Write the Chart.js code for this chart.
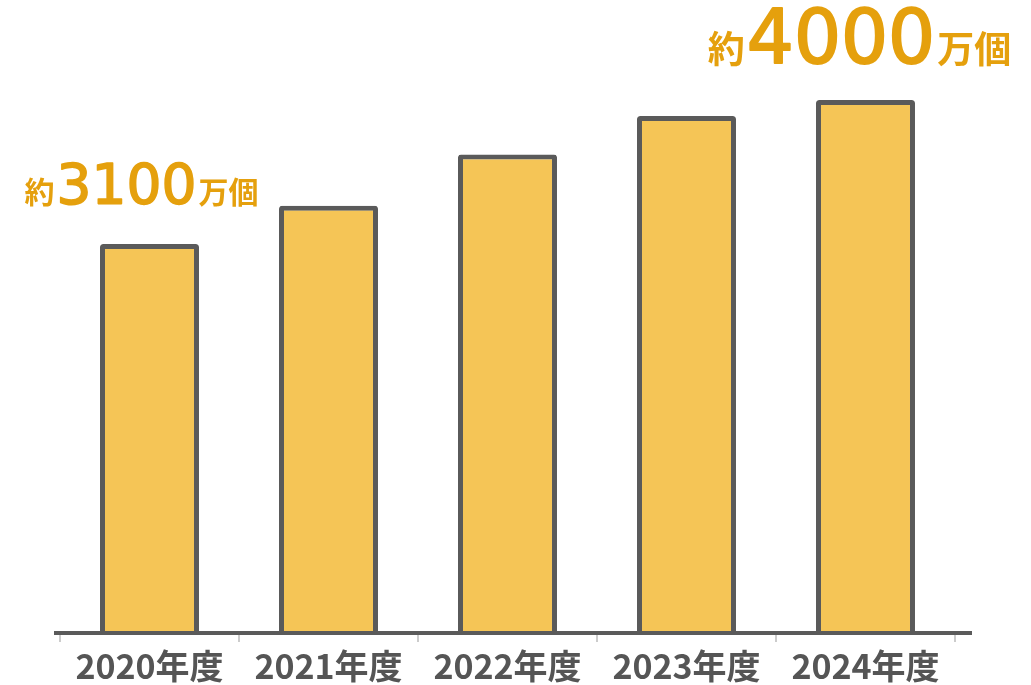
<!DOCTYPE html>
<html lang="ja">
<head>
<meta charset="UTF-8">
<title>年度別の推移</title>
<script src="https://cdn.jsdelivr.net/npm/chart.js@4/dist/chart.umd.min.js"></script>
<style>
    html, body { margin: 0; padding: 0; background: #fff; }
    .chart-box { width: 1031px; height: 685px; position: relative; }
</style>
</head>
<body>
<div class="chart-box">
    <canvas id="countChart"></canvas>
</div>
<script>
    // 年度ごとの個数（万個）
    const years = ['2020年度', '2021年度', '2022年度', '2023年度', '2024年度'];
    const counts = [3100, 3340, 3660, 3900, 4000];
    // 吹き出しを付ける年度
    const calloutIndexes = [0, 4];

    const FONT = '"Noto Sans CJK JP", "Noto Sans", sans-serif';
    const DIGIT_FONT = '"DejaVu Sans", sans-serif';
    const ORANGE = '#E5A00D';

    // 下の軸線（プロット領域より少し長く引く）
    const axisLine = {
        id: 'axisLine',
        afterDatasetsDraw(chart) {
            const { ctx, chartArea } = chart;
            ctx.save();
            ctx.strokeStyle = '#5a5a5a';
            ctx.lineWidth = 4;
            ctx.beginPath();
            ctx.moveTo(chartArea.left - 6, chartArea.bottom);
            ctx.lineTo(chartArea.right + 17, chartArea.bottom);
            ctx.stroke();
            ctx.restore();
        }
    };

    // 「約○○万個」の表示
    const callouts = {
        id: 'callouts',
        afterDatasetsDraw(chart) {
            const { ctx } = chart;
            const bars = chart.getDatasetMeta(0).data;
            calloutIndexes.forEach((i, n) => {
                const big = n === calloutIndexes.length - 1;
                const numSize = big ? 74 : 55;
                const kanjiSize = big ? 37 : 30;
                const parts = [
                    { text: '約', font: `bold ${kanjiSize}px ${FONT}`, stroke: 0 },
                    { text: String(counts[i]), font: `${numSize}px ${DIGIT_FONT}`, stroke: big ? 2 : 1.6 },
                    { text: '万個', font: `bold ${kanjiSize}px ${FONT}`, stroke: 0 }
                ];
                ctx.save();
                ctx.fillStyle = ORANGE;
                ctx.strokeStyle = ORANGE;
                ctx.lineJoin = 'round';
                ctx.textBaseline = 'alphabetic';
                let total = 0;
                parts.forEach(p => {
                    ctx.font = p.font;
                    p.w = ctx.measureText(p.text).width + 2;
                    total += p.w;
                });
                let x = bars[i].x - (big ? 5 : 7) - total / 2;
                const y = bars[i].y - (big ? 37 : 41);
                parts.forEach(p => {
                    ctx.font = p.font;
                    ctx.fillText(p.text, x, y);
                    if (p.stroke) {
                        ctx.lineWidth = p.stroke;
                        ctx.strokeText(p.text, x, y);
                    }
                    x += p.w;
                });
                ctx.restore();
            });
        }
    };

    new Chart(document.getElementById('countChart'), {
        type: 'bar',
        data: {
            labels: years,
            datasets: [{
                data: counts,
                backgroundColor: '#F5C556',
                borderColor: '#5a5a5a',
                borderWidth: 5,
                borderRadius: 3,
                borderSkipped: 'start',
                barPercentage: 0.553,
                categoryPercentage: 1
            }]
        },
        options: {
            responsive: true,
            maintainAspectRatio: false,
            animation: false,
            layout: { padding: { top: 36, left: 60, right: 76, bottom: 0 } },
            plugins: {
                legend: { display: false },
                tooltip: { enabled: false }
            },
            scales: {
                x: {
                    offset: true,
                    border: { display: false },
                    grid: {
                        offset: true,
                        drawOnChartArea: false,
                        tickLength: 9,
                        color: '#cccccc',
                        lineWidth: 2
                    },
                    ticks: {
                        color: '#555555',
                        padding: 4,
                        font: { family: FONT, size: 34, weight: 'bold' }
                    },
                    afterFit(scale) { scale.height = 52; }
                },
                y: {
                    display: false,
                    min: 670,
                    max: 4400
                }
            }
        },
        plugins: [axisLine, callouts]
    });
</script>
</body>
</html>
